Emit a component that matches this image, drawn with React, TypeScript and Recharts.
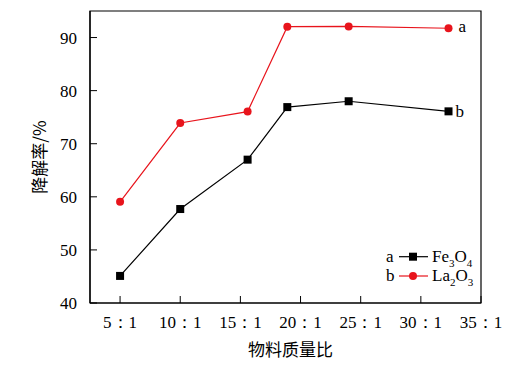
import React from 'react';
import { LineChart, Line, XAxis, YAxis, Legend, LabelList, ReferenceArea } from 'recharts';

const xValues = [5, 10, 15.6, 18.9, 24, 32.3];
const fe3o4 = [45.1, 57.7, 67.0, 76.9, 78.0, 76.1];
const la2o3 = [59.05, 73.9, 76.05, 92.05, 92.1, 91.75];
const xTicks = [5, 10, 15, 20, 25, 30, 35];
const xTickLabels = ['5：1', '10：1', '15：1', '20：1', '25：1', '30：1', '35：1'];
const yTicks = [40, 50, 60, 70, 80, 90];
const xDomain = [2.5, 35];
const yDomain = [40, 95];

const data = xValues.map((x, i) => ({ x, fe: fe3o4[i], la: la2o3[i] }));

const RED = '#e8141c';
const SERIF = '"Liberation Serif", "Times New Roman", serif';
const CJK = '"Noto Sans CJK SC", sans-serif';
const FS = 17;
const TM = 13;
const TL = 7;

const XTick = (props: any) => {
  const { x, y, payload, index } = props;
  return (
    <g>
      <line x1={x} x2={x} y1={y - TM} y2={y - TM - TL} stroke="#000" strokeWidth={1} />
      <text x={x} y={y} dy="0.71em" textAnchor="middle" fontSize={FS} fontFamily={SERIF} fill="#000">
        {xTickLabels[xTicks.indexOf(payload.value)] ?? xTickLabels[index]}
      </text>
    </g>
  );
};

const YTick = (props: any) => {
  const { x, y, payload } = props;
  return (
    <g>
      <line x1={x + TM} x2={x + TM + TL} y1={y} y2={y} stroke="#000" strokeWidth={1} />
      <text x={x} y={y} dy="0.355em" textAnchor="end" fontSize={FS} fontFamily={SERIF} fill="#000">
        {payload.value}
      </text>
    </g>
  );
};

const Square = (props: any) => {
  const { cx, cy } = props;
  if (cx == null || cy == null) return null;
  return <rect x={cx - 4} y={cy - 4} width={8} height={8} fill="#000" />;
};

const Dot = (props: any) => {
  const { cx, cy } = props;
  if (cx == null || cy == null) return null;
  return <circle cx={cx} cy={cy} r={4} fill={RED} />;
};

const endLabel = (text: string, dx: number, dy: number) => (props: any) => {
  const { x, y, index } = props;
  if (index !== data.length - 1) return null;
  return (
    <text x={x + dx} y={y + dy} dy="0.32em" fontSize={FS} fontFamily={SERIF} fill="#000">
      {text}
    </text>
  );
};

const LegendContent = () => (
  <svg width={110} height={48} style={{ overflow: 'visible' }}>
    <g fontFamily={SERIF} fontSize={FS} fill="#000">
      <text x={6} y={12.7} dy="0.32em">a</text>
      <line x1={19} x2={48} y1={12.7} y2={12.7} stroke="#000" strokeWidth={1.2} />
      <rect x={29} y={8.7} width={8} height={8} fill="#000" />
      <text x={52} y={12.7} dy="0.32em">
        Fe<tspan fontSize={11} dy="5">3</tspan><tspan dy="-5">O</tspan><tspan fontSize={11} dy="5">4</tspan>
      </text>
      <text x={6} y={32} dy="0.32em">b</text>
      <line x1={19} x2={48} y1={32} y2={32} stroke={RED} strokeWidth={1.2} />
      <circle cx={33} cy={32} r={4} fill={RED} />
      <text x={52} y={32} dy="0.32em">
        La<tspan fontSize={11} dy="5">2</tspan><tspan dy="-5">O</tspan><tspan fontSize={11} dy="5">3</tspan>
      </text>
    </g>
  </svg>
);

export default function App() {
  return (
    <div style={{ position: 'absolute', left: 0, top: 0, width: 527, height: 366, background: '#fff' }}>
      <LineChart width={527} height={366} data={data} margin={{ top: 11, right: 46, bottom: 23, left: 0 }}>
        <ReferenceArea
          xAxisId="b"
          yAxisId="l"
          x1={xDomain[0]}
          x2={xDomain[1]}
          y1={yDomain[0]}
          y2={yDomain[1]}
          fill="none"
          stroke="#000"
          strokeWidth={1.2}
          ifOverflow="visible"
        />
        <XAxis
          xAxisId="b"
          dataKey="x"
          type="number"
          domain={xDomain}
          ticks={xTicks}
          allowDataOverflow
          height={40}
          tickSize={0}
          tickMargin={TM}
          tickLine={false}
          axisLine={{ stroke: '#000', strokeWidth: 1.2 }}
          tick={<XTick />}
          interval={0}
          label={{ value: '物料质量比', position: 'bottom', offset: 1, dx: 5, fontSize: FS, fontFamily: CJK, fill: '#000' }}
        />
        <YAxis
          yAxisId="l"
          type="number"
          domain={yDomain}
          ticks={yTicks}
          allowDataOverflow
          width={90}
          tickSize={0}
          tickMargin={TM}
          tickLine={false}
          axisLine={{ stroke: '#000', strokeWidth: 1.2 }}
          tick={<YTick />}
          interval={0}
          label={{ value: '降解率/%', angle: -90, position: 'center', dx: -5, fontSize: FS, fontFamily: CJK, fill: '#000' }}
        />
        <Legend
          layout="horizontal"
          verticalAlign="middle"
          align="center"
          content={<LegendContent />}
          wrapperStyle={{ left: 380, top: 244, width: 110, height: 48 }}
        />
        <Line
          xAxisId="b"
          yAxisId="l"
          dataKey="fe"
          stroke="#000"
          strokeWidth={1.2}
          dot={<Square />}
          activeDot={false}
          isAnimationActive={false}
        >
          <LabelList dataKey="fe" content={endLabel('b', 7, 0)} />
        </Line>
        <Line
          xAxisId="b"
          yAxisId="l"
          dataKey="la"
          stroke={RED}
          strokeWidth={1.2}
          dot={<Dot />}
          activeDot={false}
          isAnimationActive={false}
        >
          <LabelList dataKey="la" content={endLabel('a', 10, -2)} />
        </Line>
      </LineChart>
    </div>
  );
}
